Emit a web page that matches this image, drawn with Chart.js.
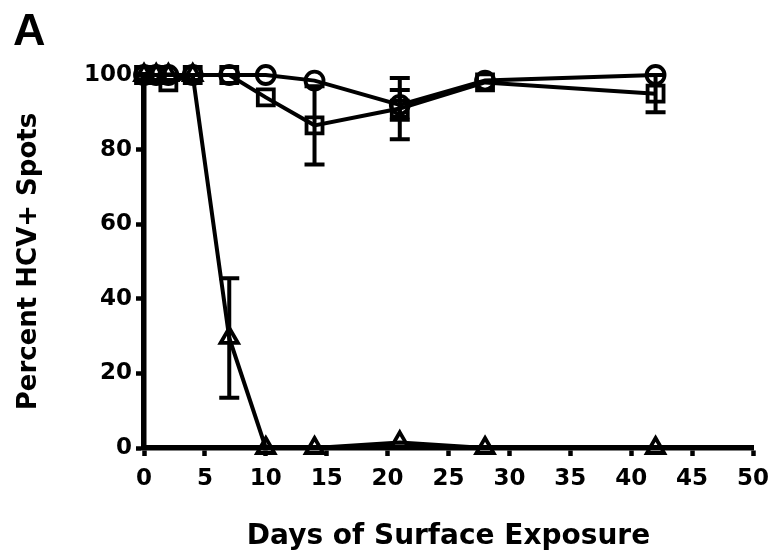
<!DOCTYPE html>
<html>
<head>
<meta charset="utf-8">
<script src="https://cdn.jsdelivr.net/npm/chart.js@4.4.1/dist/chart.umd.min.js"></script>
<style>
  html, body { margin: 0; padding: 0; background: #fff; }
</style>
</head>
<body>
<canvas id="exposure" width="771" height="554"></canvas>
<script>
// sampling days and the three series (percent of spots still HCV+)
var days = [0, 1, 2, 4, 7, 10, 14, 21, 28, 42];
var circleVals = [100, 100, 100, 100, 100, 100, 98.5, 92, 98.5, 100];
var circleErr = [0, 0, 0, 0, 0, 0, 0, 4, 0, 0];
var squareVals = [100, 100, 98, 100, 100, 94, 86.5, 91, 98, 95];
var squareErr = [0, 0, 0, 0, 0, 0, 10.5, 8.2, 0, 5];
var triangleVals = [100, 100, 100, 100, 29.5, 0, 0, 1.5, 0, 0];
var triangleErr = [0, 0, 0, 0, 16, 0, 0, 0, 0, 0];

var xMax = 50, xStep = 5;
var yMax = 100, yStep = 20;

function points(vals) {
	return days.map(function(d, i) {
		return { x: d, y: vals[i] };
	});
}

function series(vals, err, style, radius) {
	return {
		data: points(vals),
		err: err,
		borderColor: '#000',
		borderWidth: 4,
		pointStyle: style,
		pointRadius: radius,
		pointBorderWidth: 3.8,
		pointBorderColor: '#000',
		pointBackgroundColor: 'rgba(255,255,255,0)',
		tension: 0,
		clip: false
	};
}

// vertical error bars with caps, placed through the chart scales
var errorBars = {
	id: 'errorBars',
	beforeDatasetsDraw: function(chart) {
		var ctx = chart.ctx;
		var xs = chart.scales.x, ys = chart.scales.y;
		ctx.save();
		ctx.strokeStyle = '#000';
		ctx.lineWidth = 4;
		chart.data.datasets.forEach(function(ds) {
			ds.err.forEach(function(e, i) {
				if (!e) return;
				var px = xs.getPixelForValue(ds.data[i].x);
				var top = ys.getPixelForValue(ds.data[i].y + e);
				var bot = ys.getPixelForValue(ds.data[i].y - e);
				ctx.beginPath();
				ctx.moveTo(px, top);
				ctx.lineTo(px, bot);
				ctx.moveTo(px - 10, top);
				ctx.lineTo(px + 10, top);
				ctx.moveTo(px - 10, bot);
				ctx.lineTo(px + 10, bot);
				ctx.stroke();
			});
		});
		ctx.restore();
	}
};

var panelLetter = {
	id: 'panelLetter',
	afterDraw: function(chart) {
		var ctx = chart.ctx;
		ctx.save();
		ctx.fillStyle = '#000';
		ctx.font = 'bold 45px "Liberation Sans", Arial, sans-serif';
		ctx.textBaseline = 'alphabetic';
		ctx.fillText('A', 13, 45);
		ctx.restore();
	}
};

var tickFont = { family: 'DejaVu Sans', weight: 'bold', size: 23 };

var ctx = document.getElementById('exposure').getContext('2d');
var chart = new Chart(ctx, {
	type: 'line',
	data: {
		datasets: [
			series(circleVals, circleErr, 'circle', 9),
			series(squareVals, squareErr, 'rect', 11.3),
			series(triangleVals, triangleErr, 'triangle', 10)
		]
	},
	options: {
		responsive: false,
		animation: false,
		events: [],
		layout: { padding: { top: 75, right: 18, left: 0, bottom: 0 } },
		plugins: {
			legend: { display: false },
			tooltip: { enabled: false }
		},
		scales: {
			x: {
				type: 'linear',
				min: 0,
				max: xMax,
				ticks: { stepSize: xStep, color: '#000', font: tickFont, padding: 9 },
				grid: { drawOnChartArea: false, drawTicks: true, tickLength: 8, tickWidth: 4.5, tickColor: '#000', color: '#000' },
				border: { display: true, color: '#000', width: 5.5 },
				title: {
					display: true,
					text: 'Days of Surface Exposure',
					color: '#000',
					font: { family: 'DejaVu Sans', weight: 'bold', size: 28 },
					padding: { top: 24, bottom: 0 }
				},
				afterFit: function(s) {
					s.height = 106;
					s.paddingLeft = 0;
					s.paddingRight = 0;
				}
			},
			y: {
				min: 0,
				max: yMax,
				ticks: { stepSize: yStep, color: '#000', font: tickFont, padding: 4 },
				grid: { drawOnChartArea: false, drawTicks: true, tickLength: 8, tickWidth: 4.5, tickColor: '#000', color: '#000' },
				border: { display: true, color: '#000', width: 5.5 },
				title: {
					display: true,
					text: 'Percent HCV+ Spots',
					color: '#000',
					font: { family: 'DejaVu Sans', weight: 'bold', size: 26 },
					padding: { top: 14, bottom: 30 }
				},
				afterFit: function(s) {
					s.width = 144;
					s.paddingTop = 0;
					s.paddingBottom = 0;
				}
			}
		}
	},
	plugins: [errorBars, panelLetter]
});
</script>
</body>
</html>
